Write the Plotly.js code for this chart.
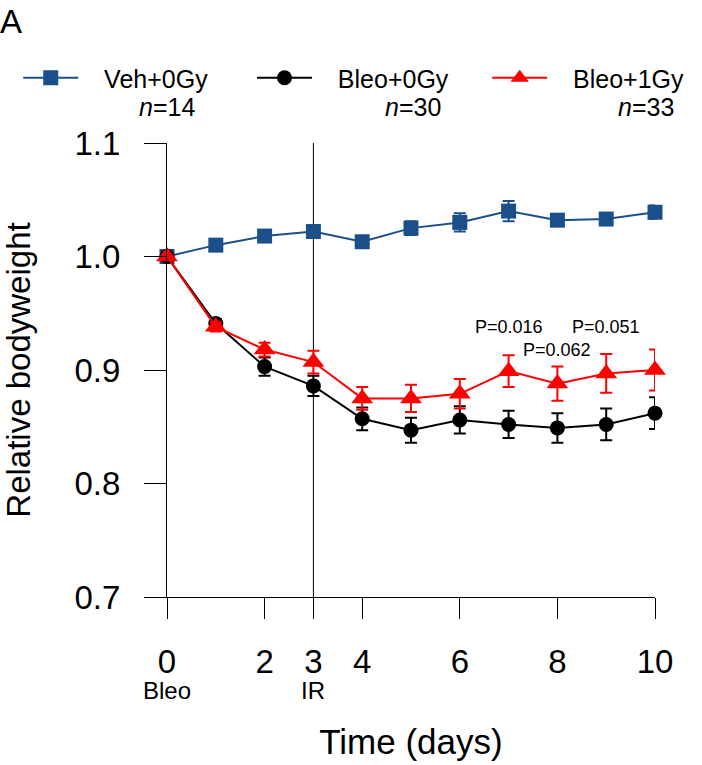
<!DOCTYPE html>
<html>
<head>
<meta charset="utf-8">
<script src="https://cdn.plot.ly/plotly-3.0.1.min.js"></script>
<style>html,body{margin:0;padding:0;background:#fff;}#chart{width:702px;height:765px;}</style>
</head>
<body>
<div id="chart"></div>
<script>
// Data
const days = [0, 1, 2, 3, 4, 5, 6, 7, 8, 9, 10];
const vehMean = [1.000, 1.010, 1.018, 1.022, 1.013, 1.025, 1.030, 1.040, 1.032, 1.033, 1.039];
const vehErr  = [0, 0.003, 0.003, 0.004, 0.003, 0.006, 0.008, 0.009, 0.005, 0.005, 0.006];
const bleo0Mean = [1.000, 0.941, 0.903, 0.886, 0.857, 0.847, 0.856, 0.852, 0.849, 0.852, 0.862];
const bleo0Err  = [0, 0.004, 0.008, 0.009, 0.010, 0.011, 0.012, 0.012, 0.013, 0.014, 0.014];
const bleo1Mean = [1.000, 0.938, 0.918, 0.907, 0.875, 0.875, 0.879, 0.899, 0.888, 0.897, 0.900];
const bleo1Err  = [0, 0.004, 0.006, 0.010, 0.010, 0.012, 0.013, 0.014, 0.015, 0.017, 0.018];
const seriesNames = ["Veh+0Gy", "Bleo+0Gy", "Bleo+1Gy"];
const seriesN = ["14", "30", "33"];
const xTicks = [0, 2, 3, 4, 6, 8, 10];
const yTicks = [0.7, 0.8, 0.9, 1.0, 1.1];
const yTickText = ["0.7", "0.8", "0.9", "1.0", "1.1"];
const pLabels = ["P=0.016", "P=0.062", "P=0.051"];
const pDays = [7, 8, 9];
const pY = [0.938, 0.918, 0.938];
const eventLabels = ["Bleo", "IR"];
const eventDays = [0, 3];

const FONT = "Liberation Sans, Arial, Helvetica, sans-serif";
const colors = ["#1b4f8a", "#000000", "#ff0000"];
const symbols = ["square", "circle", "triangle-up"];
const sizes = [15, 15, 19];
const means = [vehMean, bleo0Mean, bleo1Mean];
const errs = [vehErr, bleo0Err, bleo1Err];
const legendIds = ["legend", "legend2", "legend3"];
const pad = "&nbsp;&nbsp;&nbsp;";

const traces = seriesNames.map((nm, i) => ({
  x: days, y: means[i], name: pad + nm, type: "scatter", mode: "lines+markers",
  legend: legendIds[i],
  line: {color: colors[i], width: 2},
  marker: {symbol: symbols[i], size: sizes[i], color: colors[i]},
  error_y: {type: "data", array: errs[i], visible: true, color: colors[i], thickness: 2, width: 6},
  cliponaxis: false
}));

const annotations = [];
for (let i = 0; i < pLabels.length; i++) {
  annotations.push({x: pDays[i], y: pY[i], xref: "x", yref: "y", text: pLabels[i], showarrow: false,
    font: {family: FONT, size: 18, color: "#000"}, xanchor: "center", yanchor: "middle"});
}
for (let i = 0; i < eventLabels.length; i++) {
  annotations.push({x: eventDays[i], y: -0.205, xref: "x", yref: "paper", text: eventLabels[i], showarrow: false,
    font: {family: FONT, size: 24, color: "#000"}, xanchor: "center", yanchor: "middle"});
}
const nX = [0.0, 0.505, 0.982];
for (let i = 0; i < seriesN.length; i++) {
  annotations.push({x: nX[i], y: 1.08, xref: "paper", yref: "paper", text: "<i>n</i>=" + seriesN[i], showarrow: false,
    font: {family: FONT, size: 25, color: "#000"}, xanchor: "center", yanchor: "middle"});
}

const legendBase = {xref: "container", yref: "container", yanchor: "middle", xanchor: "left", y: 0.898,
  font: {family: FONT, size: 25, color: "#000"}, itemwidth: 55, bgcolor: "rgba(0,0,0,0)", itemclick: false,
  orientation: "h"};
const legendX = [0.026, 0.359, 0.694];

const layout = {
  width: 702, height: 765,
  margin: {l: 167, r: 47, t: 143, b: 168},
  paper_bgcolor: "#fff", plot_bgcolor: "#fff",
  font: {family: FONT, color: "#000"},
  title: {text: "A", x: 0.0, xref: "container", xanchor: "left", y: 0.9725, yref: "container", yanchor: "middle",
          font: {family: FONT, size: 33, color: "#000"}, pad: {l: 0}},
  showlegend: true,
  legend: Object.assign({}, legendBase, {x: legendX[0]}),
  legend2: Object.assign({}, legendBase, {x: legendX[1]}),
  legend3: Object.assign({}, legendBase, {x: legendX[2]}),
  xaxis: {range: [0, 10], tickvals: xTicks, ticktext: xTicks.map(String), showline: true, linecolor: "#000", linewidth: 1,
          ticks: "outside", ticklen: 21, tickwidth: 1, tickcolor: "#000", showgrid: false, zeroline: false,
          ticklabelstandoff: 14, tickfont: {family: FONT, size: 33, color: "#000"},
          title: {text: "Time (days)", font: {family: FONT, size: 35, color: "#000"}, standoff: 50}},
  yaxis: {range: [0.7, 1.1], tickvals: yTicks, ticktext: yTickText, showline: true, linecolor: "#000", linewidth: 1,
          ticks: "outside", ticklen: 22, tickwidth: 1, tickcolor: "#000", showgrid: false, zeroline: false,
          ticklabelstandoff: 17, tickfont: {family: FONT, size: 33, color: "#000"},
          title: {text: "Relative bodyweight", font: {family: FONT, size: 33, color: "#000"}, standoff: 40}},
  shapes: [{type: "line", xref: "x", yref: "paper", x0: 3, x1: 3, y0: 0, y1: 1, line: {color: "#000", width: 1}, layer: "below"}],
  annotations: annotations
};

Plotly.newPlot("chart", traces, layout, {displayModeBar: false, staticPlot: true});
</script>
</body>
</html>
